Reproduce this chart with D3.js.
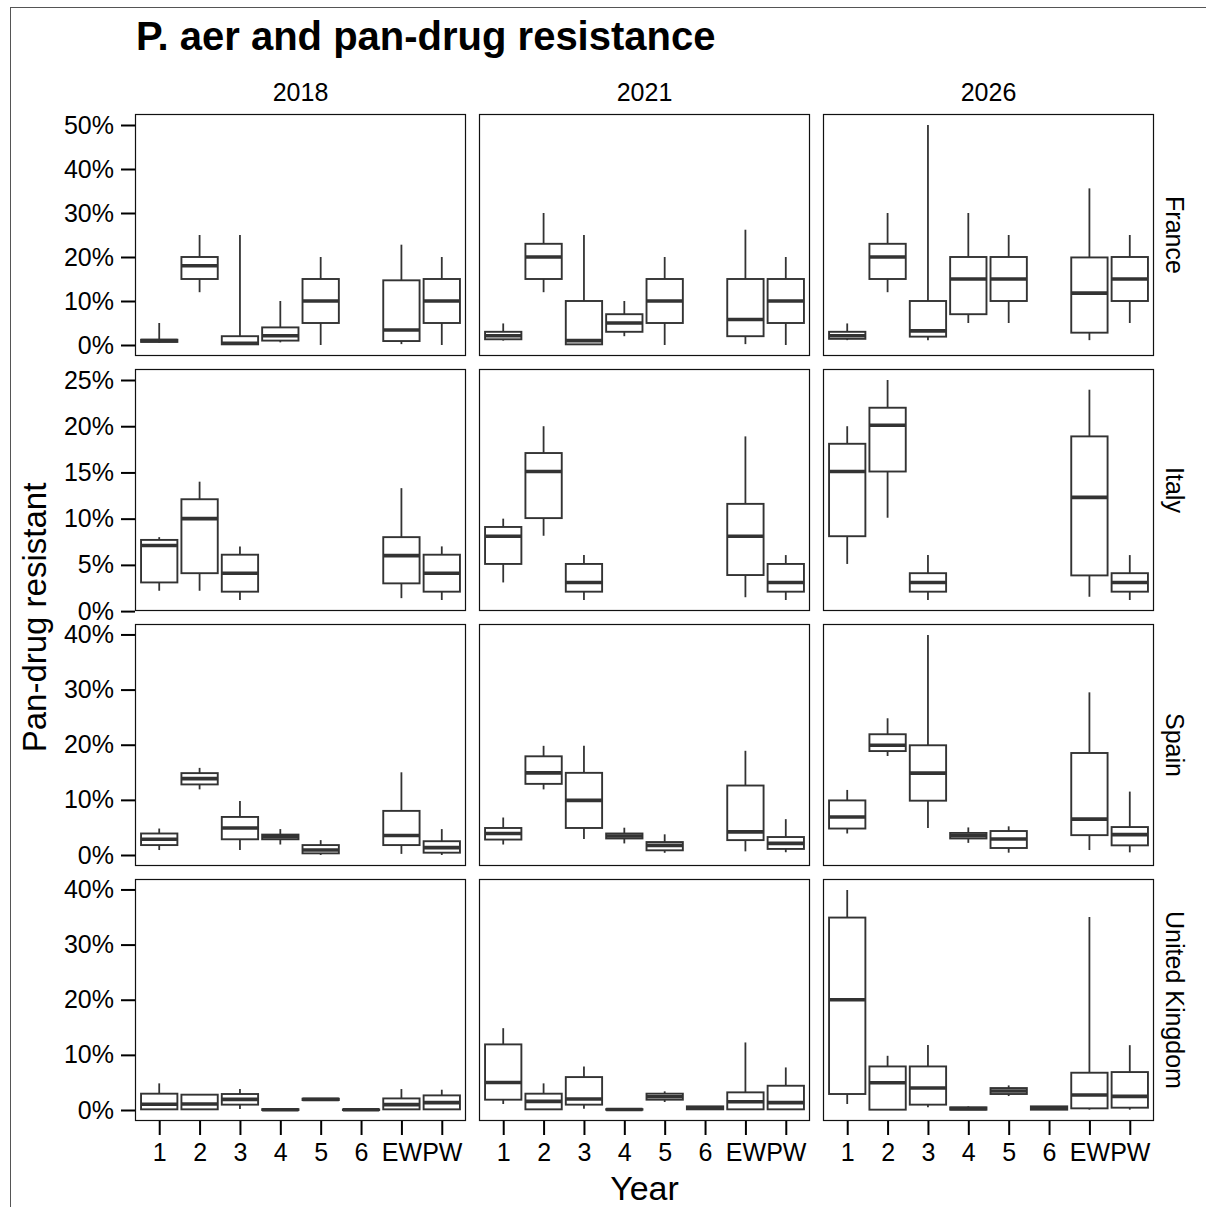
<!DOCTYPE html>
<html>
<head>
<meta charset="utf-8">
<script src="https://cdn.jsdelivr.net/npm/d3@7"></script>
<style>
  html, body { margin: 0; padding: 0; background: #fff; }
  svg { display: block; }
  text { font-family: "Liberation Sans", Arial, sans-serif; fill: #000; }
</style>
</head>
<body>
<svg id="chart" width="1206" height="1207"></svg>
<script>
// Facets
const years = ["2018", "2021", "2026"];
const countries = ["France", "Italy", "Spain", "United Kingdom"];
const categories = ["1", "2", "3", "4", "5", "6", "EW", "PW"];

// Y tick values per country row (percent)
const yTicksFrance = [0, 10, 20, 30, 40, 50];
const yTicksItaly = [0, 5, 10, 15, 20, 25];
const yTicksSpain = [0, 10, 20, 30, 40];
const yTicksUK = [0, 10, 20, 30, 40];

// Box statistics, one row per category: [category, lower whisker, Q1, median, Q3, upper whisker] (percent)
const franceY2018 = [
  ["1", 0.5, 0.7, 1.0, 1.2, 5], ["2", 12, 15, 18, 20, 25], ["3", 0, 0.15, 0.4, 2, 25],
  ["4", 0.6, 1, 2.1, 4, 10], ["5", 0, 5, 10, 15, 20], ["EW", 0.2, 0.9, 3.4, 14.7, 22.8], ["PW", 0, 5, 10, 15, 20]
];
const franceY2021 = [
  ["1", 1.0, 1.3, 2.1, 3.0, 4.9], ["2", 12, 15, 20, 23, 30], ["3", 0, 0.15, 1.0, 10, 25],
  ["4", 2, 3, 5, 7, 10], ["5", 0, 5, 10, 15, 20], ["EW", 0.2, 2, 5.8, 15, 26.2], ["PW", 0, 5, 10, 15, 20]
];
const franceY2026 = [
  ["1", 1.1, 1.4, 2.1, 3.0, 4.9], ["2", 12, 15, 20, 23, 30], ["3", 1.1, 1.9, 3.2, 10, 50],
  ["4", 5, 7, 15, 20, 30], ["5", 5, 10, 15, 20, 25], ["EW", 1.1, 2.8, 11.8, 19.9, 35.6], ["PW", 5, 10, 15, 20, 25]
];
const italyY2018 = [
  ["1", 2.2, 3.1, 7.1, 7.7, 8.0], ["2", 2.2, 4.1, 10, 12.1, 14], ["3", 1.2, 2.1, 4.1, 6.1, 7],
  ["EW", 1.4, 3.0, 6.0, 8.0, 13.3], ["PW", 1.2, 2.1, 4.1, 6.1, 7]
];
const italyY2021 = [
  ["1", 3.1, 5.1, 8.1, 9.1, 10], ["2", 8.15, 10.06, 15.1, 17.1, 20], ["3", 1.2, 2.1, 3.1, 5.1, 6.06],
  ["EW", 1.5, 3.9, 8.1, 11.6, 18.9], ["PW", 1.2, 2.1, 3.1, 5.1, 6.06]
];
const italyY2026 = [
  ["1", 5.1, 8.1, 15.1, 18.1, 20], ["2", 10.1, 15.1, 20.1, 22, 25], ["3", 1.2, 2.1, 3.1, 4.1, 6.06],
  ["EW", 1.55, 3.86, 12.3, 18.9, 23.95], ["PW", 1.2, 2.1, 3.1, 4.1, 6.06]
];
const spainY2018 = [
  ["1", 0.9, 1.8, 2.85, 3.9, 4.8], ["2", 11.9, 12.8, 13.85, 14.85, 15.8], ["3", 0.9, 2.85, 4.9, 6.9, 9.8],
  ["4", 1.9, 2.85, 3.3, 3.7, 4.7], ["5", 0, 0.3, 0.9, 1.8, 2.7], ["EW", 0.2, 1.8, 3.55, 8.0, 15], ["PW", 0, 0.42, 1.33, 2.5, 4.7]
];
const spainY2021 = [
  ["1", 1.9, 2.8, 3.9, 4.9, 6.8], ["2", 11.9, 12.9, 14.9, 17.9, 19.8], ["3", 2.9, 4.9, 9.9, 14.9, 19.8],
  ["4", 2.1, 3.0, 3.45, 3.9, 4.95], ["5", 0.4, 0.85, 1.75, 2.35, 3.75], ["EW", 0.66, 2.7, 4.2, 12.6, 18.9], ["PW", 0.5, 1.1, 2.1, 3.26, 6.5]
];
const spainY2026 = [
  ["1", 3.9, 4.8, 6.9, 9.9, 11.8], ["2", 17.95, 18.85, 19.9, 21.9, 24.8], ["3", 4.9, 9.85, 14.85, 19.9, 39.9],
  ["4", 2.2, 3.0, 3.5, 4.0, 5.0], ["5", 0.42, 1.27, 2.9, 4.35, 5.2], ["EW", 0.9, 3.6, 6.5, 18.5, 29.5], ["PW", 0.48, 1.75, 3.7, 5.07, 11.5]
];
const ukY2018 = [
  ["1", 0.1, 0.12, 1.03, 2.96, 4.83], ["2", 0.1, 0.12, 1.1, 2.78, 2.78], ["3", 0.2, 0.97, 1.93, 2.9, 3.8],
  ["4", 0, 0, 0.05, 0.15, 0.2], ["5", 1.7, 1.81, 1.93, 2.05, 2.17], ["6", 0, 0, 0.05, 0.1, 0.3],
  ["EW", 0.1, 0.12, 0.97, 2.1, 3.8], ["PW", 0.1, 0.12, 1.33, 2.65, 3.68]
];
const ukY2021 = [
  ["1", 1.09, 1.87, 5.0, 11.9, 14.84], ["2", 0.1, 0.12, 1.57, 2.96, 4.83], ["3", 0.24, 0.97, 2.0, 5.97, 7.9],
  ["4", 0, 0.05, 0.1, 0.15, 0.2], ["5", 1.45, 1.87, 2.41, 2.96, 3.38], ["6", 0.1, 0.12, 0.4, 0.66, 0.7],
  ["EW", 0.1, 0.12, 1.5, 3.2, 12.25], ["PW", 0.1, 0.12, 1.33, 4.4, 7.72]
];
const ukY2026 = [
  ["1", 1.09, 2.9, 20, 34.9, 39.9], ["2", 0.06, 0.06, 4.95, 7.9, 9.83], ["3", 0.48, 0.97, 3.98, 7.9, 11.8],
  ["4", 0.06, 0.06, 0.25, 0.48, 0.66], ["5", 2.53, 2.9, 3.44, 3.98, 4.46], ["6", 0.06, 0.06, 0.36, 0.66, 0.66],
  ["EW", 0.06, 0.3, 2.71, 6.76, 35], ["PW", 0.06, 0.42, 2.47, 6.88, 11.76]
];

const panelData = {
  "France": [franceY2018, franceY2021, franceY2026],
  "Italy": [italyY2018, italyY2021, italyY2026],
  "Spain": [spainY2018, spainY2021, spainY2026],
  "United Kingdom": [ukY2018, ukY2021, ukY2026]
};
const rowTicks = {
  "France": yTicksFrance, "Italy": yTicksItaly, "Spain": yTicksSpain, "United Kingdom": yTicksUK
};

// Layout
const svg = d3.select("#chart");
const panelX = [135, 479, 823];
const panelY = [114, 369, 624, 879];
const panelW = 331;
const panelH = 242;
const ink = "#333";
const tickFont = 25;

// Figure frame
svg.append("rect")
  .attr("x", 10.5).attr("y", 7.5).attr("width", 1220).attr("height", 1220)
  .attr("fill", "none").attr("stroke", "#555").attr("stroke-width", 1);

// Title
svg.append("text")
  .attr("x", 136).attr("y", 50)
  .attr("font-size", 40).attr("font-weight", "bold")
  .text("P. aer and pan-drug resistance");

// Discrete x positions with 0.6 category padding on both sides
const step = panelW / (categories.length - 1 + 1.2);
const xs = d3.scalePoint()
  .domain(categories)
  .range([0.6 * step, panelW - 0.6 * step]);
const boxW = step * 0.9;

countries.forEach((country, ri) => {
  // Free y scale per row, spanning all whisker ends with 5% expansion
  const rows = panelData[country].flat();
  const lo = d3.min(rows, r => r[1]);
  const hi = d3.max(rows, r => r[5]);
  const pad = (hi - lo) * 0.05;
  const y = d3.scaleLinear().domain([lo - pad, hi + pad]).range([panelH, 0]);

  years.forEach((yr, ci) => {
    const g = svg.append("g").attr("transform", `translate(${panelX[ci]},${panelY[ri]})`);

    const boxes = g.selectAll("g.box").data(panelData[country][ci]).enter()
      .append("g").attr("class", "box");

    // whiskers
    boxes.append("line")
      .attr("x1", d => xs(d[0])).attr("x2", d => xs(d[0]))
      .attr("y1", d => y(d[4])).attr("y2", d => y(d[5]))
      .attr("stroke", ink).attr("stroke-width", 1.8);
    boxes.append("line")
      .attr("x1", d => xs(d[0])).attr("x2", d => xs(d[0]))
      .attr("y1", d => y(d[1])).attr("y2", d => y(d[2]))
      .attr("stroke", ink).attr("stroke-width", 1.8);
    // box
    boxes.append("rect")
      .attr("x", d => xs(d[0]) - boxW / 2).attr("width", boxW)
      .attr("y", d => y(d[4])).attr("height", d => Math.max(0, y(d[2]) - y(d[4])))
      .attr("fill", "#fff").attr("stroke", ink).attr("stroke-width", 1.9);
    // median
    boxes.append("line")
      .attr("x1", d => xs(d[0]) - boxW / 2).attr("x2", d => xs(d[0]) + boxW / 2)
      .attr("y1", d => y(d[3])).attr("y2", d => y(d[3]))
      .attr("stroke", ink).attr("stroke-width", 3.6);

    // panel border
    g.append("rect")
      .attr("x", 0.5).attr("y", 0.5).attr("width", panelW - 1).attr("height", panelH - 1)
      .attr("fill", "none").attr("stroke", "#111").attr("stroke-width", 1.2);

    // y axis on first column
    if (ci === 0) {
      const ya = g.append("g").call(
        d3.axisLeft(y).tickValues(rowTicks[country]).tickFormat(v => v + "%")
          .tickSize(14).tickPadding(7)
      );
      ya.select(".domain").remove();
      ya.selectAll(".tick line").attr("stroke", "#000").attr("stroke-width", 2);
      ya.selectAll(".tick text").attr("font-size", tickFont).attr("fill", "#000")
        .attr("font-family", "Liberation Sans, Arial, sans-serif");
    }

    // x axis on bottom row
    if (ri === countries.length - 1) {
      const xa = g.append("g").attr("transform", `translate(0,${panelH})`).call(
        d3.axisBottom(xs).tickSize(14).tickPadding(8)
      );
      xa.select(".domain").remove();
      xa.selectAll(".tick line").attr("stroke", "#000").attr("stroke-width", 2);
      xa.selectAll(".tick text").attr("font-size", tickFont).attr("fill", "#000")
        .attr("font-family", "Liberation Sans, Arial, sans-serif");
    }

    // column strip label
    if (ri === 0) {
      g.append("text")
        .attr("x", panelW / 2).attr("y", -13)
        .attr("text-anchor", "middle").attr("font-size", tickFont)
        .text(yr);
    }
    // row strip label
    if (ci === years.length - 1) {
      g.append("text")
        .attr("transform", `translate(${panelW + 12},${panelH / 2}) rotate(90)`)
        .attr("text-anchor", "middle").attr("font-size", tickFont)
        .text(country);
    }
  });
});

// Axis titles
svg.append("text")
  .attr("transform", `translate(46,${(panelY[0] + panelY[3] + panelH) / 2}) rotate(-90)`)
  .attr("text-anchor", "middle").attr("font-size", 33)
  .text("Pan-drug resistant");
svg.append("text")
  .attr("x", (panelX[0] + panelX[2] + panelW) / 2).attr("y", 1200)
  .attr("text-anchor", "middle").attr("font-size", 34)
  .text("Year");
</script>
</body>
</html>
